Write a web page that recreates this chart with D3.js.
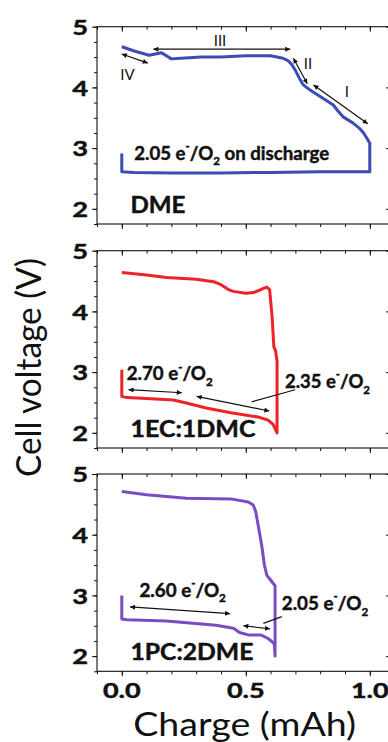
<!DOCTYPE html>
<html lang="en">
<head>
<meta charset="utf-8">
<title>Cell voltage vs charge</title>
<script src="https://d3js.org/d3.v7.min.js"></script>
<style>
body { margin: 0; background: #fff; }
text { font-family: Lato, "Open Sans", sans-serif; fill: #111; }
text.heavy { stroke: #111; stroke-width: 0.45px; }
</style>
</head>
<body>
<script>
// ---- data: charge (mAh) and cell voltage (V), discharge then charge, one path per cell
var dmeQ = [0, 0, 0.05, 0.2, 0.4, 0.6, 0.8, 1.0, 1.0, 0.99, 0.975, 0.96, 0.93, 0.894, 0.87, 0.853, 0.8, 0.77, 0.745, 0.73, 0.715, 0.70, 0.685, 0.67, 0.65, 0.6, 0.5, 0.4, 0.32, 0.24, 0.2, 0.16, 0.11, 0.05, 0];
var dmeV = [2.91, 2.61, 2.60, 2.59, 2.59, 2.60, 2.61, 2.61, 3.08, 3.15, 3.25, 3.32, 3.42, 3.51, 3.62, 3.71, 3.85, 3.93, 4.00, 4.05, 4.16, 4.28, 4.38, 4.44, 4.48, 4.52, 4.52, 4.50, 4.50, 4.48, 4.47, 4.57, 4.53, 4.60, 4.67];

var ecQ = [0, 0, 0.02, 0.08, 0.208, 0.26, 0.34, 0.44, 0.55, 0.59, 0.61, 0.626, 0.626, 0.62, 0.613, 0.606, 0.596, 0.585, 0.571, 0.55, 0.53, 0.5, 0.45, 0.43, 0.4, 0.37, 0.3, 0.18, 0.1, 0];
var ecV = [3.04, 2.60, 2.58, 2.57, 2.54, 2.49, 2.41, 2.33, 2.26, 2.21, 2.14, 2.0, 3.18, 3.35, 3.42, 3.92, 4.36, 4.40, 4.38, 4.34, 4.31, 4.30, 4.33, 4.36, 4.44, 4.49, 4.53, 4.56, 4.60, 4.64];

var pcQ = [0, 0, 0.02, 0.18, 0.38, 0.45, 0.475, 0.51, 0.56, 0.59, 0.605, 0.615, 0.618, 0.618, 0.61, 0.597, 0.585, 0.575, 0.565, 0.551, 0.54, 0.53, 0.51, 0.44, 0.26, 0.1, 0];
var pcV = [3.0, 2.61, 2.60, 2.58, 2.51, 2.46, 2.39, 2.35, 2.35, 2.29, 2.24, 2.20, 2.0, 3.16, 3.20, 3.27, 3.33, 3.50, 3.80, 4.13, 4.38, 4.49, 4.54, 4.59, 4.60, 4.66, 4.71];

var panelNames = ["DME", "1EC:1DMC", "1PC:2DME"];
var lineColors = ["#3b4db3", "#ee2229", "#7b4cc0"];
var seriesQ = [dmeQ, ecQ, pcQ];
var seriesV = [dmeV, ecV, pcV];

var xTicks = [0, 0.5, 1.0];
var xTickLabels = ["0.0", "0.5", "1.0"];
var yTicks = [2, 3, 4, 5];

// arrows: panel, q1, V1, q2, V2, heads (2 = both ends, 0 = leader line)
var arrows = [
  [0, 0.127, 4.63, 0.679, 4.63, 2],
  [0, 0.692, 4.48, 0.748, 4.06, 2],
  [0, 0.773, 4.04, 0.992, 3.40, 2],
  [0, 0.0, 4.55, 0.105, 4.40, 2],
  [1, 0.027, 2.71, 0.242, 2.66, 2],
  [1, 0.302, 2.60, 0.595, 2.36, 2],
  [1, 0.524, 2.51, 0.699, 2.71, 0],
  [2, 0.033, 2.81, 0.437, 2.70, 2],
  [2, 0.49, 2.50, 0.598, 2.45, 2],
  [2, 0.571, 2.54, 0.645, 2.65, 0]
];

// roman numeral region marks on the DME curve
var regionMarks = [["III", 0.396, 4.68], ["II", 0.751, 4.30], ["I", 0.907, 3.84], ["IV", 0.023, 4.12]];

// electron count labels: panel, value, tail, q, V
var eLabels = [
  [0, "2.05", " on discharge", 0.05, 2.81],
  [1, "2.70", "", 0.02, 2.87],
  [1, "2.35", "", 0.658, 2.74],
  [2, "2.60", "", 0.071, 2.98],
  [2, "2.05", "", 0.645, 2.76]
];
var eLabelWidths = [195, 86, 85, 86.5, 86.5];

// ---- layout
var W = 388, H = 742;
var left = 97, right = 391;
var panelTop = [26.7, 250.7, 474];
var panelH = 197.3;

var svg = d3.select("body").append("svg")
  .attr("width", W)
  .attr("height", H);

var defs = svg.append("defs");
defs.append("marker")
  .attr("id", "head")
  .attr("viewBox", "0 0 10 10")
  .attr("refX", 10)
  .attr("refY", 5)
  .attr("markerWidth", 7)
  .attr("markerHeight", 5)
  .attr("markerUnits", "userSpaceOnUse")
  .attr("orient", "auto-start-reverse")
  .append("path")
  .attr("d", "M0,0L10,5L0,10z")
  .attr("fill", "#111");

var x = d3.scaleLinear()
  .domain([-0.1, 1.1])
  .range([left, left + 297.6]);

// stretch a text horizontally so it spans w pixels
function fit(t, px, py, w, rot) {
  var sx = 1;
  if (w) sx = w / t.node().getComputedTextLength();
  t.attr("transform", "translate(" + px + "," + py + ")" + (rot ? " rotate(-90)" : "") + " scale(" + sx + ",1)");
}

panelNames.forEach(function(name, i) {
  var top = panelTop[i], bottom = top + panelH;
  var y = d3.scaleLinear().domain([1.75, 5]).range([bottom, top]);
  var g = svg.append("g");

  var minorX = d3.range(-1, 11).map(function(k) { return k / 10; });
  var minorY = d3.range(7, 21).map(function(k) { return k / 4; });

  // bottom ticks (outward) and top ticks (inward), both pointing down
  g.append("g").attr("transform", "translate(0," + bottom + ")")
    .call(d3.axisBottom(x).tickValues(minorX).tickSize(3).tickFormat(""));
  g.append("g").attr("transform", "translate(0," + bottom + ")")
    .call(d3.axisBottom(x).tickValues(xTicks).tickSize(5).tickFormat(""));
  g.append("g").attr("transform", "translate(0," + top + ")")
    .call(d3.axisTop(x).tickValues(minorX).tickSize(-3).tickFormat(""));
  g.append("g").attr("transform", "translate(0," + top + ")")
    .call(d3.axisTop(x).tickValues(xTicks).tickSize(-5).tickFormat(""));

  // left ticks outward, right ticks inward
  g.append("g").attr("transform", "translate(" + left + ",0)")
    .call(d3.axisLeft(y).tickValues(minorY).tickSize(3).tickFormat(""));
  g.append("g").attr("transform", "translate(" + left + ",0)")
    .call(d3.axisLeft(y).tickValues(yTicks).tickSize(5).tickFormat(""));
  g.append("g").attr("transform", "translate(" + right + ",0)")
    .call(d3.axisRight(y).tickValues(minorY).tickSize(-3).tickFormat(""));
  g.append("g").attr("transform", "translate(" + right + ",0)")
    .call(d3.axisRight(y).tickValues(yTicks).tickSize(-5).tickFormat(""));

  g.selectAll(".domain").remove();
  g.selectAll(".tick line").attr("stroke", "#111").attr("stroke-width", 1);

  g.append("rect")
    .attr("x", left).attr("y", top)
    .attr("width", right - left).attr("height", panelH)
    .attr("fill", "none").attr("stroke", "#111").attr("stroke-width", 1.1);

  // y tick labels
  yTicks.forEach(function(v) {
    var t = g.append("text")
      .attr("class", "heavy")
      .attr("text-anchor", "end")
      .attr("dominant-baseline", "central")
      .attr("font-size", 21)
      .attr("font-weight", "bold")
      .text(v);
    t.attr("transform", "translate(88," + y(v) + ") scale(1.3,1)");
  });

  // curve
  var pts = seriesQ[i].map(function(q, k) { return [q, seriesV[i][k]]; });
  g.append("path")
    .datum(pts)
    .attr("d", d3.line()
      .x(function(d) { return x(d[0]); })
      .y(function(d) { return y(d[1]); }))
    .attr("fill", "none")
    .attr("stroke", lineColors[i])
    .attr("stroke-width", 3)
    .attr("stroke-linejoin", "round");

  // arrows
  arrows.filter(function(a) { return a[0] === i; }).forEach(function(a) {
    var l = g.append("line")
      .attr("x1", x(a[1])).attr("y1", y(a[2]))
      .attr("x2", x(a[3])).attr("y2", y(a[4]))
      .attr("stroke", "#111").attr("stroke-width", 1.2);
    if (a[5] === 2) l.attr("marker-start", "url(#head)").attr("marker-end", "url(#head)");
  });

  // electron count labels
  eLabels.forEach(function(e, k) {
    if (e[0] !== i) return;
    var s = 19;
    var t = g.append("text").attr("class", "heavy").attr("font-size", s).attr("font-weight", "bold");
    t.append("tspan").text(e[1] + " e");
    t.append("tspan").attr("font-size", s * 0.6).attr("dy", -s * 0.5).text("-");
    t.append("tspan").attr("dy", s * 0.5).text("/O");
    t.append("tspan").attr("font-size", s * 0.62).attr("dy", s * 0.3).text("2");
    if (e[2]) t.append("tspan").attr("dy", -s * 0.3).text(e[2]);
    fit(t, x(e[3]), y(e[4]), eLabelWidths[k]);
  });

  // electrolyte name
  var nm = g.append("text")
    .attr("class", "heavy")
    .attr("font-size", 22)
    .attr("font-weight", "bold")
    .text(name);
  fit(nm, x(0.035), y(1.93), [55, 125, 123][i]);
});

// roman numerals on the first panel
var y0 = d3.scaleLinear().domain([1.75, 5]).range([panelTop[0] + panelH, panelTop[0]]);
regionMarks.forEach(function(r) {
  svg.append("text")
    .attr("x", x(r[1]))
    .attr("y", y0(r[2]))
    .attr("text-anchor", "middle")
    .attr("font-size", 15)
    .text(r[0]);
});

// x tick labels on bottom panel
xTicks.forEach(function(v, k) {
  var t = svg.append("text")
    .attr("class", "heavy")
    .attr("text-anchor", "middle")
    .attr("font-size", 20)
    .attr("font-weight", "bold")
    .text(xTickLabels[k]);
  t.attr("transform", "translate(" + x(v) + ",698) scale(1.35,1)");
});

// axis titles
var xt = svg.append("text")
  .attr("text-anchor", "middle")
  .attr("font-size", 33)
  .text("Charge (mAh)");
fit(xt, 244.7, 735.5, 223);

var yt = svg.append("text")
  .attr("text-anchor", "middle")
  .attr("font-size", 35)
  .text("Cell voltage (V)");
fit(yt, 41, 367.5, 219, true);
</script>
</body>
</html>
